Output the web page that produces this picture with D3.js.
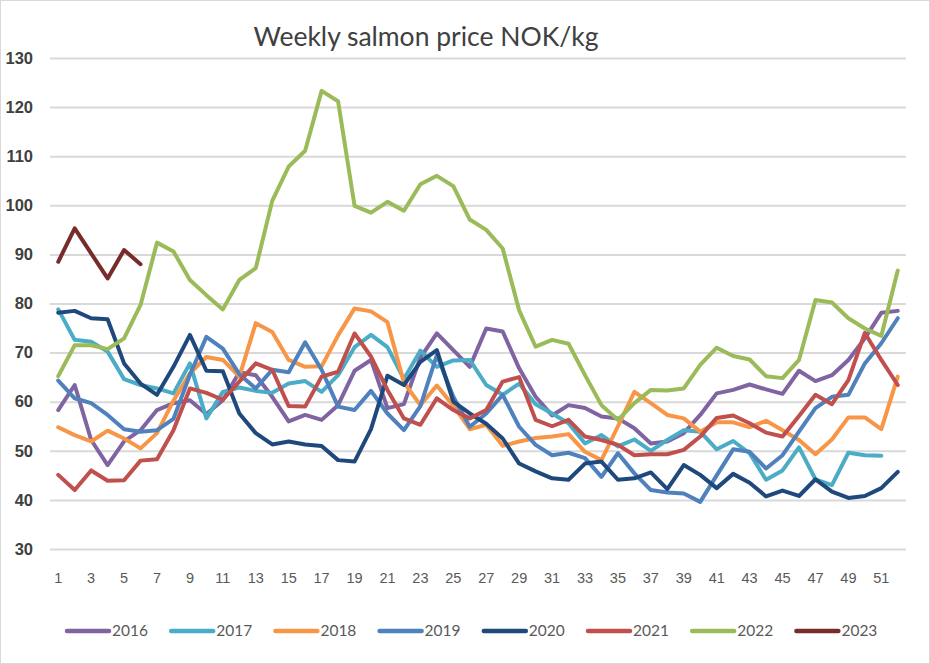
<!DOCTYPE html>
<html>
<head>
<meta charset="utf-8">
<script src="https://cdn.jsdelivr.net/npm/d3@7"></script>
<style>
  body { margin: 0; background: #fff; }
  svg { display: block; font-family: Lato, "Open Sans", sans-serif; }
</style>
</head>
<body>
<div id="chart"></div>
<script>
// weekly price, NOK/kg
var weeks = d3.range(1, 53);
var years = ['2016', '2017', '2018', '2019', '2020', '2021', '2022', '2023'];
var colors = ['#8064A2', '#4BACC6', '#F79646', '#4F81BD', '#1F497D', '#C0504D', '#9BBB59', '#772C2A'];
var yTicks = [30, 40, 50, 60, 70, 80, 90, 100, 110, 120, 130];
var xTicks = weeks.filter(function(w) { return w % 2 === 1; });

var p2016 = [58.3, 63.4, 52.2, 47.1, 51.9, 54.2, 58.3, 59.7, 60.3, 57.5, 60.3, 66, 65.4, 61, 56, 57.3, 56.3, 59.3, 66.3, 68.5, 58.7, 59.5, 69, 73.9, 70.5, 67.1, 74.9, 74.3, 66.8, 61, 57.2, 59.3, 58.7, 57, 56.6, 54.6, 51.5, 51.9, 53.6, 57.3, 61.7, 62.4, 63.5, 62.5, 61.6, 66.3, 64.2, 65.4, 68.5, 72.9, 78.1, 78.5];
var p2017 = [78.8, 72.6, 72.2, 70.2, 64.6, 63.4, 62.7, 61.7, 67.8, 56.6, 62, 62.9, 62.2, 61.8, 63.7, 64.2, 62, 65.4, 71.1, 73.6, 71.1, 64.6, 70.4, 67.1, 68.4, 68.5, 63.4, 61.4, 63.7, 59.5, 57.6, 55.6, 51.5, 53.2, 50.9, 52.3, 50, 52.2, 54.2, 53.9, 50.3, 52, 49.5, 44.1, 46, 50.7, 44.2, 43, 49.6, 49.1, 49, null];
var p2018 = [54.8, 53.2, 51.9, 54.1, 52.5, 50.5, 53.6, 60.2, 65.8, 69.1, 68.5, 65.1, 76, 74.2, 68.5, 67.1, 67.2, 73.5, 79, 78.4, 76.2, 63.9, 59.3, 63.3, 59.2, 54.4, 55.3, 51, 51.9, 52.6, 52.9, 53.4, 49.8, 48.1, 55, 62, 59.7, 57.3, 56.6, 53.9, 55.8, 55.8, 54.8, 56.1, 54.2, 52.2, 49.3, 52.3, 56.8, 56.8, 54.4, 65.1];
var p2019 = [64.3, 60.7, 59.7, 57.3, 54.4, 53.9, 54.2, 56.5, 65.5, 73.2, 70.8, 65.6, 62.7, 66.5, 66, 72.1, 66.5, 59, 58.3, 62.2, 57.6, 54.2, 59.1, 69.5, 61, 54.9, 57.6, 61.4, 54.9, 51.2, 49.1, 49.6, 48.5, 44.7, 49.5, 45.4, 42, 41.5, 41.3, 39.6, 45, 50.3, 49.8, 46.4, 49.1, 53.9, 58.7, 61, 61.4, 67.8, 71.9, 77];
var p2020 = [78.1, 78.5, 77, 76.8, 67.8, 63.7, 61.4, 67.1, 73.6, 66.3, 66.2, 57.6, 53.6, 51.3, 51.9, 51.3, 51, 48.1, 47.8, 54.4, 65.3, 63.4, 68.1, 70.5, 60, 57.6, 55.5, 52.5, 47.4, 45.8, 44.4, 44.1, 47.4, 47.8, 44.1, 44.4, 45.6, 42.2, 47.1, 45.1, 42.4, 45.3, 43.5, 40.7, 41.9, 40.8, 44.2, 41.7, 40.4, 40.8, 42.4, 45.7];
var p2021 = [45.1, 42, 46, 43.9, 44, 48, 48.3, 54.2, 62.7, 61.8, 60.4, 64.1, 67.8, 66.5, 59.1, 59, 65.1, 66.1, 73.9, 69.2, 62.4, 56.6, 55.3, 60.7, 58.3, 56.6, 58.3, 64.1, 65, 56.3, 55, 56.3, 52.9, 52.2, 51.2, 49.1, 49.3, 49.3, 50.2, 52.9, 56.7, 57.2, 55.6, 53.7, 52.9, 57.1, 61.4, 59.5, 64.4, 74, 68.5, 63.4];
var p2022 = [65.2, 71.5, 71.5, 70.7, 72.9, 79.7, 92.4, 90.6, 84.8, 81.7, 78.8, 84.8, 87.2, 100.9, 107.9, 111.1, 123.3, 121.2, 99.9, 98.5, 100.7, 98.9, 104.3, 106, 103.9, 97.1, 95, 91.2, 78.6, 71.2, 72.6, 71.8, 65.4, 59.3, 56.3, 59.7, 62.4, 62.3, 62.7, 67.5, 71, 69.3, 68.6, 65.2, 64.8, 68.5, 80.7, 80.2, 77, 74.9, 73.4, 86.7];
var p2023 = [88.5, 95.3, 90.2, 85.1, 90.9, 88];

var series = [p2016, p2017, p2018, p2019, p2020, p2021, p2022, p2023];

var width = 930, height = 664;
var plotLeft = 50, plotRight = 906, plotTop = 58, plotBottom = 549;

var svg = d3.select('#chart').append('svg')
  .attr('width', width)
  .attr('height', height);

// chart border
svg.append('rect')
  .attr('x', 0.5).attr('y', 0.5)
  .attr('width', width - 1).attr('height', height - 1)
  .attr('fill', '#fff')
  .attr('stroke', '#d9d9d9');

var x = d3.scaleBand().domain(weeks).range([plotLeft, plotRight]).padding(0);
var y = d3.scaleLinear().domain([30, 130]).range([plotBottom, plotTop]);

function cx(w) { return x(w) + x.bandwidth() / 2; }

// gridlines + y labels
var yAxis = svg.append('g')
  .attr('transform', 'translate(' + plotLeft + ',0)')
  .call(d3.axisLeft(y).tickValues(yTicks).tickSize(-(plotRight - plotLeft)).tickPadding(17));
yAxis.select('.domain').remove();
yAxis.selectAll('.tick line').attr('stroke', '#d9d9d9').attr('stroke-width', 2);
yAxis.selectAll('.tick text')
  .attr('fill', '#404040')
  .style('font-size', '16.5px')
  .style('font-weight', '600');

// x labels
var xAxis = svg.append('g')
  .attr('transform', 'translate(0,' + plotBottom + ')')
  .call(d3.axisBottom(x).tickValues(xTicks).tickSize(0).tickPadding(24));
xAxis.select('.domain').remove();
xAxis.selectAll('.tick text')
  .attr('fill', '#595959')
  .style('font-size', '14.5px');

var line = d3.line()
  .defined(function(d) { return d != null; })
  .x(function(d, i) { return cx(weeks[i]); })
  .y(function(d) { return y(d); });

svg.append('g').selectAll('path')
  .data(series)
  .enter()
  .append('path')
  .attr('d', line)
  .attr('fill', 'none')
  .attr('stroke', function(d, i) { return colors[i]; })
  .attr('stroke-width', 4)
  .attr('stroke-linejoin', 'round')
  .attr('stroke-linecap', 'round');

// title
svg.append('text')
  .attr('x', 426).attr('y', 46)
  .attr('text-anchor', 'middle')
  .attr('fill', '#404040')
  .style('font-size', '26.5px')
  .text('Weekly salmon price NOK/kg');

// legend
var legend = svg.append('g').selectAll('g')
  .data(years)
  .enter()
  .append('g')
  .attr('transform', function(d, i) { return 'translate(' + (67 + i * 104.2) + ',631)'; });

legend.append('line')
  .attr('x1', 0).attr('x2', 42)
  .attr('stroke', function(d, i) { return colors[i]; })
  .attr('stroke-width', 4.5)
  .attr('stroke-linecap', 'round');

legend.append('text')
  .attr('x', 45).attr('dy', '0.35em')
  .attr('fill', '#595959')
  .style('font-size', '15.5px')
  .text(function(d) { return d; });
</script>
</body>
</html>
